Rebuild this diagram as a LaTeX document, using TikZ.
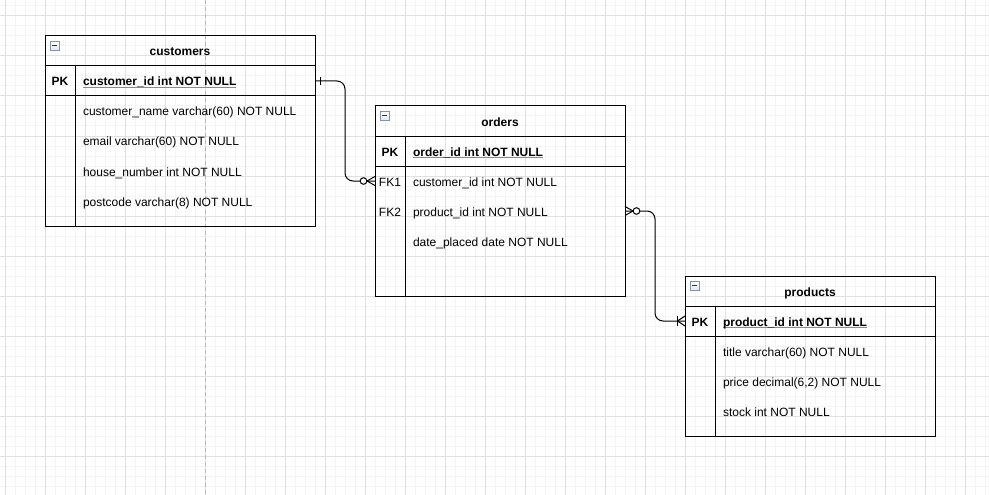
\documentclass[tikz,border=0pt]{standalone}
\usepackage{fontspec}
\setmainfont{Liberation Sans}
\definecolor{gridminor}{HTML}{F4F4F4}
\definecolor{gridmajor}{HTML}{E0E0E0}
\definecolor{pageline}{HTML}{B8B8B8}
\definecolor{iconedge}{HTML}{8393A8}
\definecolor{iconfill}{HTML}{E4E7EC}
\definecolor{ulcolor}{HTML}{8A8A8A}
\pgfdeclarelayer{under}
\pgfsetlayers{under,main}

% one ER table: name, left, top, width, height, title
\newcommand\ertable[6]{%
  \node[tablebox, minimum width=#4pt, minimum height=#5pt, anchor=north west] (#1) at (#2,#3) {};
  \draw[tableline] ([yshift=-30pt]#1.north west) -- ([yshift=-30pt]#1.north east);
  \draw[tableline] ([yshift=-60pt]#1.north west) -- ([yshift=-60pt]#1.north east);
  \draw[tableline] ([xshift=30pt,yshift=-30pt]#1.north west) -- ([xshift=30pt]#1.south west);
  \node[iconbox, anchor=north west] (#1-icon) at ([xshift=5pt,yshift=-5pt]#1.north west) {};
  \draw[line width=1.2pt, black!80] ([xshift=2pt]#1-icon.west) -- ([xshift=-2pt]#1-icon.east);
  \node[titletxt, anchor=base] (#1-title) at ([xshift=#4pt/2, yshift=-20pt]#1.north west) {#6};
}
% underline placed beneath a key field's text
\newcommand\keyunderline[1]{%
  \begin{pgfonlayer}{under}
    \draw[uline] ([yshift=-1.5pt]#1.base west) -- ([yshift=-1.5pt]#1.base east);
  \end{pgfonlayer}
}

\begin{document}
\begin{tikzpicture}[x=1pt, y=-1pt,
  every node/.style={inner sep=0pt, outer sep=0pt, font=\fontsize{12}{14}\selectfont},
  tablebox/.style={draw=black, line width=1pt},
  tableline/.style={draw=black, line width=1pt},
  iconbox/.style={draw=iconedge, line width=0.8pt, top color=white, bottom color=iconfill, minimum width=9pt, minimum height=9pt},
  titletxt/.style={font=\fontsize{12}{14}\selectfont\bfseries},
  keytxt/.style={anchor=base},
  pktxt/.style={anchor=base, font=\fontsize{12}{14}\selectfont\bfseries},
  fieldtxt/.style={anchor=base west},
  pkfield/.style={anchor=base west, font=\fontsize{12}{14}\selectfont\bfseries},
  uline/.style={draw=ulcolor, line width=1pt},
  conn/.style={draw=black, line width=1pt, rounded corners=8pt},
  endmark/.style={draw=black, line width=1pt},
  ring/.style={draw=black, line width=1pt, fill=white},
]
\useasboundingbox (0,0) rectangle (989,495);

% background grid
\begin{pgfonlayer}{under}
\fill[white] (0,0) rectangle (989,495);
\begin{scope}
\clip (0,0) rectangle (989,495);
\foreach \x in {5,15,...,985} \draw[gridminor, line width=1pt] (\x,0) -- (\x,495);
\foreach \y in {6,16,...,495} \draw[gridminor, line width=1pt] (0,\y) -- (989,\y);
\foreach \x in {5,45,...,985} \draw[gridmajor, line width=1pt] (\x,0) -- (\x,495);
\foreach \y in {16,56,...,495} \draw[gridmajor, line width=1pt] (0,\y) -- (989,\y);
\draw[pageline, line width=1pt, dash pattern=on 4pt off 3pt] (205,0) -- (205,495);
\end{scope}
\end{pgfonlayer}

% customers
\ertable{cust}{45}{36}{270}{190}{customers}
\node[pktxt] (cust-pk) at (60,86) {PK};
\node[pkfield] (cust-id) at (83,86) {customer\_id int NOT NULL};
\keyunderline{cust-id}
\node[fieldtxt] (cust-name) at (83,116) {customer\_name varchar(60) NOT NULL};
\node[fieldtxt] (cust-email) at (83,146) {email varchar(60) NOT NULL};
\node[fieldtxt] (cust-house) at (83,176) {house\_number int NOT NULL};
\node[fieldtxt] (cust-post) at (83,206) {postcode varchar(8) NOT NULL};

% orders
\ertable{ord}{375}{106}{250}{190}{orders}
\node[pktxt] (ord-pk) at (390,156) {PK};
\node[pkfield] (ord-id) at (413,156) {order\_id int NOT NULL};
\keyunderline{ord-id}
\node[keytxt] (ord-fk1) at (390,186) {FK1};
\node[fieldtxt] (ord-cust) at (413,186) {customer\_id int NOT NULL};
\node[keytxt] (ord-fk2) at (390,216) {FK2};
\node[fieldtxt] (ord-prod) at (413,216) {product\_id int NOT NULL};
\node[fieldtxt] (ord-date) at (413,246) {date\_placed date NOT NULL};

% products
\ertable{prod}{685}{276}{250}{160}{products}
\node[pktxt] (prod-pk) at (700,326) {PK};
\node[pkfield] (prod-id) at (723,326) {product\_id int NOT NULL};
\keyunderline{prod-id}
\node[fieldtxt] (prod-title) at (723,356) {title varchar(60) NOT NULL};
\node[fieldtxt] (prod-price) at (723,386) {price decimal(6,2) NOT NULL};
\node[fieldtxt] (prod-stock) at (723,416) {stock int NOT NULL};

% connector end points on the table edges
\coordinate (custPKe) at (315,81);
\coordinate (ordFK1w) at (375,181);
\coordinate (ordFK2e) at (625,211);
\coordinate (prodPKw) at (685,321);

% customers (one) to orders (zero or many)
\draw[conn] (custPKe) -- ++(30,0) |- (ordFK1w);
\draw[endmark] ([xshift=5pt,yshift=-4pt]custPKe) -- ([xshift=5pt,yshift=4pt]custPKe);
\draw[endmark] ([xshift=-8pt]ordFK1w) -- ([yshift=4.5pt]ordFK1w);
\draw[endmark] ([xshift=-8pt]ordFK1w) -- ([yshift=-4.5pt]ordFK1w);
\draw[ring] ([xshift=-11.5pt]ordFK1w) circle (3.3pt);

% orders (zero or many) to products (one or many)
\draw[conn] (ordFK2e) -- ++(30,0) |- (prodPKw);
\draw[endmark] ([xshift=8pt]ordFK2e) -- ([yshift=4.5pt]ordFK2e);
\draw[endmark] ([xshift=8pt]ordFK2e) -- ([yshift=-4.5pt]ordFK2e);
\draw[ring] ([xshift=11.5pt]ordFK2e) circle (3.3pt);
\draw[endmark] ([xshift=-7.5pt]prodPKw) -- ([yshift=5pt]prodPKw);
\draw[endmark] ([xshift=-7.5pt]prodPKw) -- ([yshift=-5pt]prodPKw);
\draw[endmark] ([xshift=-7.5pt,yshift=-5pt]prodPKw) -- ([xshift=-7.5pt,yshift=5pt]prodPKw);
\end{tikzpicture}
\end{document}
